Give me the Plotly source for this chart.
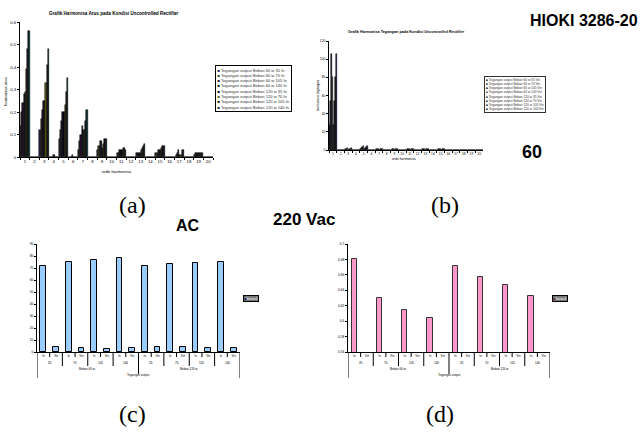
import plotly.graph_objects as go

W, H = 644, 434


def px(x):
    return x / W


def py(y):
    return 1 - y / H


# ---------------- data ----------------
harmonics = [str(i) for i in range(1, 21)]

a_names = [
    "Tegangan output Beban 60 w 35 In",
    "Tegangan output Beban 60 w 70 In",
    "Tegangan output Beban 60 w 105 In",
    "Tegangan output Beban 60 w 140 In",
    "Tegangan output Beban 120 w 35 In",
    "Tegangan output Beban 120 w 70 In",
    "Tegangan output Beban 120 w 105 In",
    "Tegangan output Beban 120 w 140 In",
]
arus_60w_35 = [0.14, 0, 0.12, 0, 0.08, 0, 0.03, 0, 0.03, 0, 0.02, 0, 0.02, 0, 0.02, 0, 0.00, 0, 0.01, 0]
arus_60w_70 = [0.20, 0, 0.17, 0, 0.12, 0, 0.07, 0, 0.05, 0, 0.02, 0, 0.02, 0, 0.02, 0, 0.01, 0, 0.02, 0]
arus_60w_105 = [0.24, 0, 0.21, 0, 0.16, 0, 0.10, 0, 0.07, 0, 0.03, 0, 0.02, 0, 0.03, 0, 0.02, 0, 0.02, 0]
arus_60w_140 = [0.28, 0, 0.25, 0.01, 0.20, 0.01, 0.14, 0, 0.07, 0, 0.03, 0, 0.02, 0, 0.03, 0, 0.03, 0, 0.02, 0]
arus_120w_35 = [0.29, 0, 0.25, 0.01, 0.20, 0, 0.12, 0, 0.04, 0, 0.03, 0, 0.03, 0, 0.03, 0, 0.01, 0, 0.02, 0]
arus_120w_70 = [0.39, 0, 0.33, 0, 0.23, 0, 0.12, 0, 0.06, 0, 0.04, 0, 0.04, 0, 0.04, 0, 0.01, 0, 0.02, 0]
arus_120w_105 = [0.48, 0, 0.41, 0, 0.29, 0, 0.16, 0, 0.08, 0, 0.04, 0, 0.05, 0, 0.05, 0, 0.03, 0, 0.02, 0]
arus_120w_140 = [0.56, 0, 0.48, 0, 0.35, 0, 0.21, 0, 0.08, 0, 0.03, 0, 0.06, 0, 0.05, 0, 0.03, 0, 0.02, 0]
a_colors = ["#22224a", "#3a3a1a", "#2a0a2a", "#0a1a2e", "#050515", "#5a5a0a", "#1e0a1e", "#0a2a2a"]

b_names = [
    "Tegangan output Beban 60 w 35 Vin",
    "Tegangan output Beban 60 w 70 Vin",
    "Tegangan output Beban 60 w 105 Vin",
    "Tegangan output Beban 60 w 140 Vin",
    "Tegangan output Beban 120 w 35 Vin",
    "Tegangan output Beban 120 w 70 Vin",
    "Tegangan output Beban 120 w 105 Vin",
    "Tegangan output Beban 120 w 140 Vin",
]
teg_60w_35 = [28, 0.4, 0.5, 0.3, 1.0, 0.3, 0.5, 0.3, 0.5, 0.3, 0.5, 0.3, 0.5, 0.3, 0.5, 0.3, 0.3, 0.3, 0.3, 0.3]
teg_60w_70 = [54, 0.4, 1.0, 0.3, 2.0, 0.3, 1.0, 0.3, 0.8, 0.3, 0.8, 0.3, 0.8, 0.3, 0.8, 0.3, 0.3, 0.3, 0.3, 0.3]
teg_60w_105 = [106, 0.5, 1.5, 0.4, 3.0, 0.4, 1.0, 0.4, 1.0, 0.3, 1.0, 0.3, 1.0, 0.3, 1.0, 0.3, 0.4, 0.3, 0.3, 0.3]
teg_60w_140 = [80, 0.5, 2.0, 0.4, 4.0, 0.4, 1.5, 0.4, 1.0, 0.3, 1.0, 0.3, 1.0, 0.3, 1.5, 0.3, 0.4, 0.3, 0.3, 0.3]
teg_120w_35 = [28, 0.4, 0.5, 0.3, 1.0, 0.3, 0.5, 0.3, 0.5, 0.3, 0.5, 0.3, 0.5, 0.3, 0.5, 0.3, 0.3, 0.3, 0.3, 0.3]
teg_120w_70 = [54, 0.4, 1.0, 0.3, 2.0, 0.3, 1.0, 0.3, 0.8, 0.3, 0.8, 0.3, 0.8, 0.3, 0.8, 0.3, 0.3, 0.3, 0.3, 0.3]
teg_120w_105 = [80, 0.5, 1.5, 0.4, 3.0, 0.4, 1.0, 0.4, 1.0, 0.3, 1.0, 0.3, 1.0, 0.3, 1.0, 0.3, 0.4, 0.3, 0.3, 0.3]
teg_120w_140 = [106, 0.5, 2.0, 0.4, 4.0, 0.4, 1.5, 0.4, 1.0, 0.3, 1.0, 0.3, 1.0, 0.3, 1.5, 0.3, 0.4, 0.3, 0.3, 0.3]
b_colors = ["#111111", "#2a2a2a", "#111122", "#555555", "#333333", "#222233", "#111111", "#1a1a4a"]

beban = ["Beban 60 w", "Beban 120 w"]
loads = ["35", "70", "105", "140"]
kinds = ["In", "Vin"]
c_in = [71.9, 75.2, 76.6, 78.3, 71.3, 73.3, 74.1, 75.2]
c_vin = [3.9, 3.3, 2.8, 3.3, 4.5, 4.2, 3.6, 3.6]
d_in = [0.680, 0.630, 0.614, 0.604, 0.671, 0.657, 0.647, 0.633]
d_vin = [0, 0, 0, 0, 0, 0, 0, 0]
legend_c = "Series1"
legend_d = "Series1"

SANS = "Liberation Sans, Arial, sans-serif"
SERIF = "Liberation Serif, Times New Roman, serif"

fig = go.Figure()

a_series = [arus_60w_35, arus_60w_70, arus_60w_105, arus_60w_140,
            arus_120w_35, arus_120w_70, arus_120w_105, arus_120w_140]
for name, vals, col in zip(a_names, a_series, a_colors):
    fig.add_trace(go.Bar(x=harmonics, y=vals, name=name, xaxis="x", yaxis="y",
                         marker=dict(color=col, line=dict(color="black", width=0.5)),
                         showlegend=False))

b_series = [teg_60w_35, teg_60w_70, teg_60w_105, teg_60w_140,
            teg_120w_35, teg_120w_70, teg_120w_105, teg_120w_140]
for name, vals, col in zip(b_names, b_series, b_colors):
    fig.add_trace(go.Bar(x=harmonics, y=vals, name=name, xaxis="x2", yaxis="y2",
                         marker=dict(color=col, line=dict(color="black", width=0.5)),
                         showlegend=False))

# (c) and (d): categories In/Vin per load per beban
idx = []
cy = []
dy = []
labels = []
i = 0
for bi, bb in enumerate(beban):
    for li, ll in enumerate(loads):
        k = bi * 4 + li
        for kk in kinds:
            idx.append(i)
            labels.append(kk)
            cy.append(c_in[k] if kk == "In" else c_vin[k])
            dy.append(d_in[k] if kk == "In" else d_vin[k])
            i += 1

fig.add_trace(go.Bar(x=idx, y=cy, xaxis="x3", yaxis="y3", width=0.45, name=legend_c,
                     marker=dict(color="#99CCFF", line=dict(color="black", width=1)),
                     showlegend=False))
fig.add_trace(go.Bar(x=idx, y=dy, xaxis="x4", yaxis="y4", width=0.42, name=legend_d,
                     marker=dict(color="#FF99CC", line=dict(color="#333333", width=1)),
                     showlegend=False))

tick_font = dict(family=SANS, size=4.3, color="black")
tiny_font = dict(family=SANS, size=3.3, color="black")

common_x = dict(showgrid=False, zeroline=False, showline=True, linecolor="black", linewidth=1,
                ticks="outside", ticklen=2, tickcolor="black", automargin=False, tickangle=0)
common_y = dict(showgrid=False, zeroline=False, showline=True, linecolor="black", linewidth=1,
                ticks="outside", ticklen=2, tickcolor="black", automargin=False)

fig.update_layout(
    width=W, height=H, margin=dict(l=0, r=0, t=0, b=0),
    paper_bgcolor="white", plot_bgcolor="white",
    template="none", separators=",.",
    barmode="group", bargap=0, bargroupgap=0,
    showlegend=False,
    xaxis=dict(common_x, type="category", domain=[px(20), px(213)], anchor="y",
               tickson="boundaries", tickfont=tick_font),
    yaxis=dict(common_y, domain=[py(157), py(22)], anchor="x", range=[0, 0.6], dtick=0.1,
               tickfont=tick_font),
    xaxis2=dict(common_x, type="category", domain=[px(329), px(483)], anchor="y2",
                tickson="boundaries", tickfont=tiny_font),
    yaxis2=dict(common_y, domain=[py(150), py(41)], anchor="x2", range=[0, 120], dtick=20,
                tickfont=tiny_font),
    xaxis3=dict(common_x, domain=[px(37), px(240)], anchor="y3", range=[-0.5, 15.5],
                tickmode="array", tickvals=idx, ticktext=labels, ticks="",
                tickfont=dict(family=SANS, size=3, color="black")),
    yaxis3=dict(common_y, domain=[py(352), py(244)], anchor="x3", range=[0, 90], dtick=10,
                tickfont=tiny_font),
    xaxis4=dict(common_x, domain=[px(348), px(550)], anchor="y4", range=[-0.5, 15.5],
                tickmode="array", tickvals=idx, ticktext=labels, ticks="",
                tickfont=dict(family=SANS, size=3, color="black")),
    yaxis4=dict(common_y, domain=[py(352), py(244)], anchor="x4", range=[0.56, 0.7], dtick=0.02,
                tickfont=tiny_font),
)

ann = []


def text(x, y, t, size, bold=False, family=SANS, angle=0, color="black", xanchor="center"):
    ann.append(dict(x=px(x), y=py(y), xref="paper", yref="paper", text=(f"<b>{t}</b>" if bold else t),
                    showarrow=False, font=dict(family=family, size=size, color=color),
                    textangle=angle, xanchor=xanchor, yanchor="middle"))


# chart titles and axis titles
text(113, 13, "Grafik Harmonisa Arus pada Kondisi <i>Uncontrolled Rectifier</i>", 4.6, bold=True)
text(6, 92, "harmonisa arus", 4.2, angle=-90)
text(117, 171, "orde harmonisa", 4.2)
text(406, 32, "Grafik Harmonisa Tegangan pada Kondisi <i>Uncontrolled Rectifier</i>", 3.8, bold=True)
text(318, 96, "harmonisa tegangan", 3.4, angle=-90)
text(404, 159, "orde harmonisa", 3.4)

# legends (a) and (b)
leg_a = "<br>".join(f'<span style="color:{c}">■</span> {n}' for n, c in zip(a_names, a_colors))
ann.append(dict(x=px(253.5), y=py(88), xref="paper", yref="paper", text=leg_a, showarrow=False,
                align="left", font=dict(family=SANS, size=4.1, color="#333333"),
                bordercolor="black", borderwidth=1, borderpad=1.5, bgcolor="white",
                xanchor="center", yanchor="middle"))
leg_b = "<br>".join(f'<span style="color:{c}">■</span> {n}' for n, c in zip(b_names, b_colors))
ann.append(dict(x=px(515), y=py(94.5), xref="paper", yref="paper", text=leg_b, showarrow=False,
                align="left", font=dict(family=SANS, size=3.2, color="#333333"),
                bordercolor="#333333", borderwidth=1, borderpad=1, bgcolor="white",
                xanchor="center", yanchor="middle"))

# legends (c) and (d)
ann.append(dict(x=px(251.5), y=py(298), xref="paper", yref="paper",
                text=f'<span style="color:#000066">■</span>{legend_c}', showarrow=False,
                font=dict(family=SANS, size=3.3, color="white"), bordercolor="black", borderwidth=1,
                borderpad=0.5, bgcolor="#777777", xanchor="center", yanchor="middle"))
ann.append(dict(x=px(559.5), y=py(298), xref="paper", yref="paper",
                text=f'<span style="color:#660033">■</span>{legend_d}', showarrow=False,
                font=dict(family=SANS, size=3.3, color="white"), bordercolor="black", borderwidth=1,
                borderpad=0.5, bgcolor="#777777", xanchor="center", yanchor="middle"))

# multi-level category labels and dividers for (c) and (d)
shapes = []
for xa in ["x3", "x4"]:
    for li in range(len(beban) * len(loads)):
        ann.append(dict(x=li * 2 + 0.5, y=py(363), xref=xa, yref="paper",
                        text=loads[li % len(loads)], showarrow=False,
                        font=dict(family=SANS, size=3, color="black"), yanchor="middle"))
    for bi, bb in enumerate(beban):
        ann.append(dict(x=bi * 8 + 3.5, y=py(369), xref=xa, yref="paper", text=bb, showarrow=False,
                        font=dict(family=SANS, size=3, color="black"), yanchor="middle"))
    ann.append(dict(x=7.5, y=py(375), xref=xa, yref="paper", text="Tegangan output", showarrow=False,
                    font=dict(family=SANS, size=3, color="black"), yanchor="middle"))
    n = len(idx)
    for b in range(n + 1):
        pos = b - 0.5
        if b == 0 or b == n:
            bottom = 378
        elif b == n // 2:
            bottom = 374
        elif b % 2 == 0:
            bottom = 366
        else:
            bottom = 357
        shapes.append(dict(type="line", xref=xa, yref="paper", x0=pos, x1=pos,
                           y0=py(352), y1=py(bottom), line=dict(color="black", width=1)))

# stray text from the scanned page
text(528, 21, "HIOKI 3286-20", 16, bold=True, xanchor="left")
text(520, 152, "60", 18, bold=True, xanchor="left")
text(188, 225, "AC", 16, bold=True)
text(304, 219, "220 Vac", 17, bold=True)
text(132, 205, "(a)", 24, family=SERIF)
text(445, 205, "(b)", 24, family=SERIF)
text(132, 414, "(c)", 24, family=SERIF)
text(440, 414, "(d)", 24, family=SERIF)

fig.update_layout(annotations=ann, shapes=shapes)
fig.write_html("out.html")
